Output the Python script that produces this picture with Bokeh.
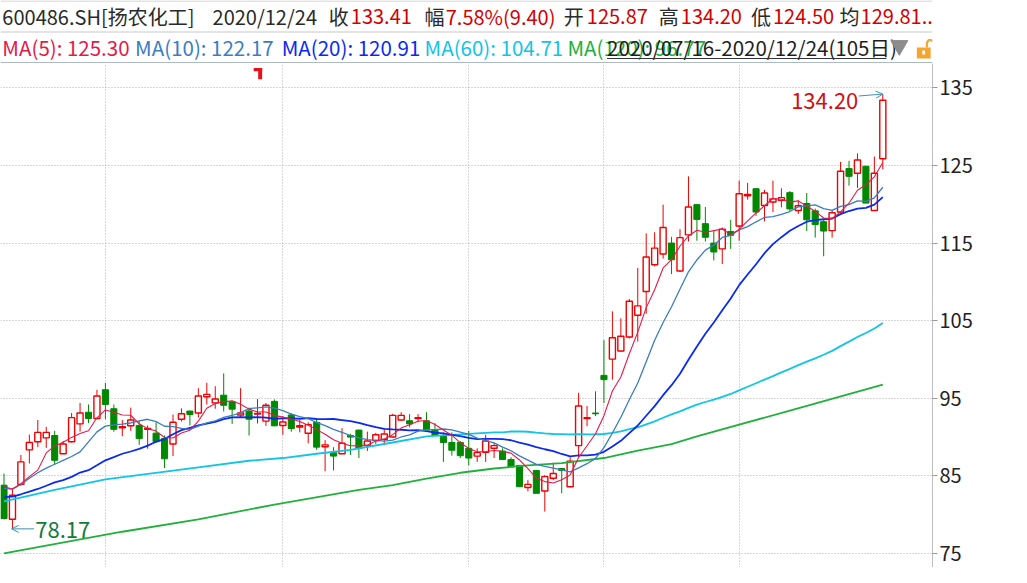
import numpy as np
import pandas as pd
from bokeh.plotting import figure
from bokeh.layouts import column
from bokeh.models import Range1d, FixedTicker, Grid, Arrow, OpenHead
from bokeh.core.properties import value
from bokeh.embed import file_html
from bokeh.resources import INLINE

# ---------------- data (105 trading days, 2020/07/16 - 2020/12/24) ----------------
open_ = [83.8, 79.4, 83.9, 88.35, 89.4, 89.9, 90.2, 87.85, 89.4, 91.7,
         93.2, 92.4, 96.1, 93.65, 91.2, 91.45, 91.5, 91.0, 90.5, 89.8,
         89.1, 92.3, 93.35, 93.1, 95.2, 94.4, 95.4, 94.55, 92.85, 93.35,
         92.95, 92.05, 94.6, 91.5, 92.85, 91.3, 90.5, 91.9, 88.75, 88.05,
         87.85, 90.2, 90.9, 88.9, 89.55, 89.7, 90.0, 92.2, 92.1, 92.4,
         92.1, 90.9, 90.2, 89.3, 89.3, 88.55, 87.55, 88.05, 88.55, 88.2,
         87.1, 86.35, 83.5, 85.7, 83.05, 84.7, 85.95, 83.6, 88.9, 92.4,
         93.1, 97.95, 100.05, 101.1, 102.9, 105.7, 108.75, 112.2, 113.6, 115.0,
         111.4, 116.05, 119.95, 117.5, 115.0, 114.25, 116.5, 117.2, 121.1, 122.0,
         119.85, 120.3, 120.5, 121.5, 119.2, 120.1, 119.15, 117.75, 116.6, 119.0,
         124.6, 124.0, 124.9, 119.2, 125.87]
high = [85.3, 83.3, 87.7, 90.3, 92.2, 91.3, 90.8, 89.5, 93.1, 94.4,
        94.2, 96.1, 97.0, 94.2, 92.2, 93.8, 92.1, 91.5, 91.9, 90.2,
        92.9, 93.7, 93.4, 96.3, 97.0, 96.55, 98.2, 94.6, 96.3, 93.8,
        94.9, 94.4, 94.85, 92.7, 93.1, 92.2, 91.9, 92.2, 89.6, 88.7,
        91.15, 90.4, 90.95, 90.7, 90.55, 91.1, 93.0, 93.2, 92.95, 92.95,
        93.2, 91.8, 90.6, 90.6, 89.5, 90.8, 88.55, 90.3, 89.25, 88.55,
        87.4, 86.4, 84.45, 85.75, 85.1, 86.7, 85.95, 87.4, 95.7, 94.0,
        95.9, 102.5, 106.2, 105.3, 107.8, 111.8, 116.25, 116.4, 119.95, 115.8,
        116.8, 123.6, 120.0, 119.65, 116.55, 117.0, 118.0, 123.05, 122.75, 122.05,
        121.85, 123.05, 122.05, 121.7, 120.5, 121.45, 119.45, 117.95, 119.3, 125.45,
        125.6, 126.55, 124.95, 126.15, 134.20]
low = [79.4, 78.17, 83.7, 86.6, 88.7, 88.6, 86.45, 87.8, 89.3, 90.7,
       91.8, 92.3, 92.3, 90.7, 90.1, 90.8, 89.0, 88.5, 89.25, 86.0,
       87.55, 92.0, 91.5, 92.5, 94.2, 93.65, 93.3, 91.7, 92.5, 90.2,
       91.75, 91.45, 91.4, 90.3, 90.7, 90.6, 89.2, 88.35, 85.6, 85.7,
       87.8, 87.7, 87.3, 88.2, 89.1, 89.1, 89.9, 92.1, 91.25, 91.9,
       90.85, 90.15, 86.8, 87.6, 87.3, 86.35, 86.8, 86.8, 87.3, 87.1,
       86.15, 83.6, 83.0, 82.75, 80.4, 84.45, 82.75, 83.55, 87.4, 91.4,
       92.7, 94.4, 97.4, 101.0, 102.7, 102.3, 105.9, 112.0, 113.0, 111.0,
       111.3, 115.2, 115.3, 115.2, 112.75, 112.3, 114.25, 115.3, 120.6, 118.5,
       117.8, 119.0, 119.6, 119.1, 118.75, 116.55, 115.7, 113.3, 115.7, 118.8,
       122.4, 122.1, 120.15, 119.15, 124.50]
close = [79.5, 82.5, 86.8, 89.3, 90.6, 90.6, 87.0, 89.1, 92.5, 93.1,
         92.4, 95.3, 94.2, 91.0, 91.35, 92.2, 89.8, 91.1, 89.4, 87.2,
         91.9, 93.0, 92.9, 95.3, 95.5, 94.9, 94.1, 93.6, 93.1, 92.3,
         93.05, 94.1, 91.45, 91.95, 91.1, 91.45, 91.6, 88.7, 89.0, 87.55,
         89.2, 90.0, 88.55, 89.5, 90.3, 90.4, 92.8, 92.8, 91.7, 92.5,
         90.9, 90.2, 89.3, 88.3, 87.6, 87.3, 88.0, 89.5, 88.9, 87.1,
         86.15, 83.6, 83.9, 82.75, 84.9, 85.3, 85.7, 86.9, 94.0, 92.5,
         93.0, 97.4, 102.8, 103.0, 107.5, 106.9, 113.2, 114.35, 117.0, 112.85,
         115.7, 119.65, 118.05, 115.75, 113.85, 116.8, 116.0, 121.35, 121.25, 119.0,
         121.45, 120.7, 120.85, 119.4, 119.8, 118.0, 117.4, 116.55, 118.9, 124.25,
         123.6, 125.7, 120.15, 124.0, 133.41]

# moving-average values before enough in-window history exists
ma5_head = [83.6, 83.3, 84.0, 84.9]
ma10_head = [83.4, 83.3, 83.9, 84.7, 85.4, 86.0, 86.5, 87.0, 87.5]
ma20_head = [82.25, 82.33, 82.63, 82.97, 83.31, 83.73, 84.16, 84.45, 84.87, 85.43,
             85.73, 86.36, 87.0, 87.42, 87.85, 88.14, 88.49, 88.9, 89.4]
ma60_head_idx = [0, 6, 12, 23, 29, 33, 37, 41, 46, 50, 55, 58]
ma60_head_val = [81.7, 83.2, 84.55, 86.1, 86.95, 87.3, 87.85, 88.35, 89.3, 90.1, 90.4, 90.6]
ma120_idx = [0, 14, 23, 32, 42, 46, 50, 54, 58, 62, 66, 71, 75, 79, 82, 93, 104]
ma120_val = [75.0, 77.8, 79.4, 81.3, 83.2, 83.8, 84.65, 85.4, 85.95, 86.35, 86.65,
             87.3, 88.25, 89.1, 90.1, 93.4, 96.77]

month_start_idx = [12, 33, 55, 71, 87]
flag_idx = [30]
y_ticks = [75, 85, 95, 105, 115, 125, 135]

hdr_labels = ["600486.SH[扬农化工]", "2020/12/24", "收", "幅", "开", "高", "低", "均"]
hdr_values = ["133.41", "7.58%(9.40)", "125.87", "134.20", "124.50", "129.81..."]
ma_labels = ["MA(5): 125.30", "MA(10): 122.17", "MA(20): 120.91", "MA(60): 104.71", "MA(120): 96.77"]
range_label = "2020/07/16-2020/12/24(105日)"

# ---------------- derived ----------------
o = np.array(open_); hi = np.array(high); lo = np.array(low); c = np.array(close)
n = len(c)
idx = np.arange(n)
cs = pd.Series(c)
ma5 = cs.rolling(5).mean().to_numpy(); ma5[:len(ma5_head)] = ma5_head
ma10 = cs.rolling(10).mean().to_numpy(); ma10[:len(ma10_head)] = ma10_head
ma20 = cs.rolling(20).mean().to_numpy(); ma20[:len(ma20_head)] = ma20_head
ma60_full = cs.rolling(60).mean().to_numpy()
ma60_x = list(ma60_head_idx) + list(range(59, n))
ma60_y = list(ma60_head_val) + list(ma60_full[59:])

RED = "#F00000"
GREEN = "#008800"
C_MA5 = "#E31A4B"
C_MA10 = "#3B7DC0"
C_MA20 = "#0A2AF0"
C_MA60 = "#12C4E6"
C_MA120 = "#22B03C"
FONT = "Noto Sans CJK SC"

up = c >= o
btop = np.maximum(o, c)
bbot = np.minimum(o, c)

W = 1011
HEAD_H = 63
MAIN_H = 567 - HEAD_H
FRAME_W = 932
PX_PER_UNIT = 7.76
Y_TOP = 138.14

# ---------------- main chart ----------------
p = figure(width=W, height=MAIN_H,
           x_range=Range1d(-0.414, 109.88),
           y_range=Range1d(Y_TOP - MAIN_H / PX_PER_UNIT, Y_TOP),
           y_axis_location="right", x_axis_location=None,
           toolbar_location=None, output_backend="svg",
           min_border_left=0, min_border_right=W - FRAME_W, min_border_top=0, min_border_bottom=0)
p.outline_line_color = None
p.background_fill_color = "white"
p.xgrid.visible = False
p.ygrid.visible = False
p.add_layout(Grid(dimension=0, ticker=FixedTicker(ticks=month_start_idx),
                  grid_line_color="#B0B0B0", grid_line_dash="1 2", grid_line_width=1))
p.add_layout(Grid(dimension=1, ticker=FixedTicker(ticks=y_ticks),
                  grid_line_color="#B0B0B0", grid_line_dash="1 2", grid_line_width=1))

ax = p.yaxis[0]
ax.ticker = FixedTicker(ticks=y_ticks)
ax.major_label_text_font_size = "20px"
ax.major_label_text_font = FONT
ax.major_label_text_color = "#222222"
ax.axis_line_color = "#BDBDBD"
ax.major_tick_line_color = "#9A9A9A"
ax.major_tick_out = 5
ax.major_tick_in = 0
ax.minor_tick_line_color = None
ax.major_label_standoff = 2

# wicks
p.segment(x0=idx[up], y0=lo[up], x1=idx[up], y1=hi[up], line_color=RED, line_width=1)
p.segment(x0=idx[~up], y0=lo[~up], x1=idx[~up], y1=hi[~up], line_color=GREEN, line_width=1)
# bodies
p.vbar(x=idx[up], width=0.72, top=btop[up], bottom=bbot[up],
       fill_color="white", line_color=RED, line_width=1.4)
p.vbar(x=idx[~up], width=0.72, top=btop[~up], bottom=bbot[~up],
       fill_color=GREEN, line_color=GREEN, line_width=1)

# moving averages
p.line(ma120_idx, ma120_val, line_color=C_MA120, line_width=1.8)
p.line(ma60_x, ma60_y, line_color=C_MA60, line_width=1.8)
p.line(idx, ma20, line_color=C_MA20, line_width=1.8)
p.line(idx, ma10, line_color=C_MA10, line_width=1.3)
p.line(idx, ma5, line_color=C_MA5, line_width=1.1)

# max / min annotations
imax = int(np.argmax(hi)); hmax = hi[imax]
imin = int(np.argmin(lo)); lmin = lo[imin]
p.text(x=[imax - 2.9], y=[hmax - 0.9], text=[f"{hmax:.2f}"], text_align="right",
       text_baseline="middle", text_color="#D01010", text_font_size="22px",
       text_font=value(FONT))
p.add_layout(Arrow(end=OpenHead(size=7, line_color="#3C95B4", line_width=1),
                   x_start=imax - 2.85, y_start=hmax - 0.25, x_end=imax, y_end=hmax,
                   line_color="#3C95B4", line_width=1))
p.text(x=[imin + 2.7], y=[lmin - 0.2], text=[f"{lmin:.2f}"], text_align="left",
       text_baseline="middle", text_color="#137A3C", text_font_size="22px",
       text_font=value(FONT))
p.add_layout(Arrow(end=OpenHead(size=7, line_color="#3C8DB0", line_width=1),
                   x_start=imin + 2.55, y_start=lmin, x_end=imin - 0.1, y_end=lmin,
                   line_color="#3C8DB0", line_width=1))

# event flag marker
fi = np.array(flag_idx, dtype=float)
p.quad(left=fi - 0.45, right=fi + 0.55, top=[137.55] * len(fi), bottom=[137.15] * len(fi),
       fill_color="#E8101C", line_color=None)
p.quad(left=fi + 0.08, right=fi + 0.55, top=[137.55] * len(fi), bottom=[136.1] * len(fi),
       fill_color="#E8101C", line_color=None)

# ---------------- header ----------------
hd = figure(width=W, height=HEAD_H, x_range=Range1d(0, W), y_range=Range1d(HEAD_H, 0),
            toolbar_location=None, output_backend="svg",
            x_axis_location=None, y_axis_location=None, min_border=0)
hd.outline_line_color = None
hd.xgrid.visible = False
hd.ygrid.visible = False

hd.segment(x0=[0, 0], y0=[0.5, 31.5], x1=[W, W], y1=[0.5, 31.5],
           line_color="#C8C8C8", line_width=1)
hd.segment(x0=[0], y0=[HEAD_H - 0.5], x1=[W], y1=[HEAD_H - 0.5], line_color="#5B7787", line_width=1.2)

lab_x = [2, 230, 356, 460, 611, 714, 814, 910]
val_x = [380, 483, 636, 738, 838, 933]
hd.text(x=lab_x, y=[15.5] * len(lab_x), text=hdr_labels, text_baseline="middle",
        text_color="#2A2A2A", text_font_size="20px", text_font=value(FONT))
hd.text(x=val_x, y=[15.5] * len(val_x), text=hdr_values, text_baseline="middle",
        text_color="#D40000", text_font_size="20px", text_font=value(FONT))

ma_x = [2, 146, 305, 460, 615]
ma_cols = [C_MA5, C_MA10, C_MA20, C_MA60, C_MA120]
hd.text(x=ma_x, y=[46] * len(ma_x), text=ma_labels, text_baseline="middle",
        text_color=ma_cols, text_font_size="20.5px", text_font=value(FONT))
hd.text(x=[658], y=[46], text=[range_label], text_baseline="middle",
        text_color="#1E1E1E", text_font_size="20.5px", text_font=value(FONT))
hd.segment(x0=[658], y0=[58], x1=[961], y1=[58], line_color="#333333", line_width=1)
hd.scatter(x=[975], y=[45], marker="inverted_triangle", size=17,
           fill_color="#8C8C8C", line_color="#8C8C8C")
# open padlock icon
hd.quad(left=[994], right=[1009], top=[47], bottom=[58], fill_color="#F2A531", line_color=None)
hd.quad(left=[1000], right=[1003], top=[50], bottom=[54], fill_color="white", line_color=None)
hd.line(x=[1005, 1005, 1007, 1009.5, 1010.5], y=[47, 42, 39.5, 39.5, 41],
        line_color="#F2A531", line_width=2.2)

layout = column(hd, p, spacing=0)
open("out.html", "w").write(file_html(layout, INLINE))
